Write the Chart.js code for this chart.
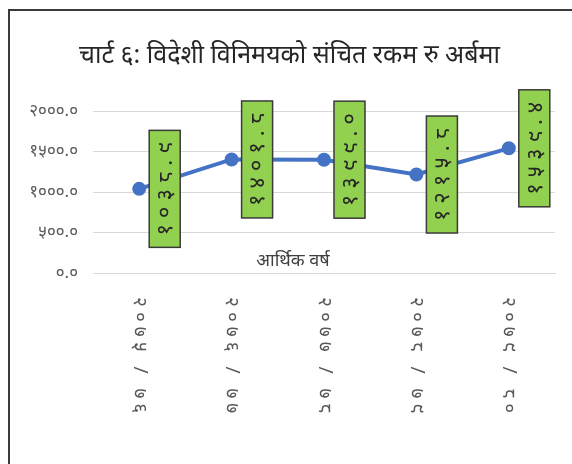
<!DOCTYPE html>
<html lang="ne">
<head>
  <meta charset="UTF-8">
  <title>विदेशी विनिमयको संचित रकम</title>
  <script src="https://cdn.jsdelivr.net/npm/chart.js"></script>
  <style>
    html, body { margin: 0; padding: 0; background: #fff; }
    #wrap {
      position: absolute; left: 8px; top: 9px; width: 564px; height: 455px;
      border-left: 2px solid #3a3a3a; border-top: 2px solid #3a3a3a;
    }
    canvas { position: absolute; left: 0; top: 0; }
  </style>
</head>
<body>
  <div id="wrap"></div>
  <canvas id="reserveChart" width="572" height="464"></canvas>

  <script>
    // आर्थिक वर्ष र संचित रकम (रु अर्बमा)
    const years = ['२०७५ / ७६', '२०७६ / ७७', '२०७७ / ७८', '२०७८ / ७९', '२०७९ / ८०'];
    const reserves = [1038.9, 1401.8, 1399.0, 1215.8, 1539.4];
    const yTicks = [0, 500, 1000, 1500, 2000];

    const FONT = "'Noto Sans', 'DejaVu Sans', sans-serif";
    const digits = '०१२३४५६७८९';
    const toNepali = n => n.toFixed(1).replace(/[0-9]/g, d => digits[+d]);

    // x-axis labels read top to bottom, value labels in green boxes read bottom to top
    const verticalLabels = {
      id: 'verticalLabels',
      afterDatasetsDraw(chart) {
        const { ctx, chartArea, scales: { x } } = chart;
        ctx.save();

        // axis title sits just above the baseline
        ctx.font = '18px ' + FONT;
        ctx.fillStyle = '#404040';
        ctx.textAlign = 'center';
        ctx.textBaseline = 'bottom';
        ctx.fillText('आर्थिक वर्ष', (chartArea.left + chartArea.right) / 2 - 31, chartArea.bottom - 3);

        years.forEach((lab, i) => {
          const px = x.getPixelForValue(i);
          ctx.save();
          ctx.translate(px, chartArea.bottom + 24);
          ctx.rotate(Math.PI / 2);
          ctx.font = '19px ' + FONT;
          ctx.letterSpacing = '5px';
          ctx.fillStyle = '#595959';
          ctx.textAlign = 'left';
          ctx.textBaseline = 'middle';
          ctx.fillText(lab, 0, 0);
          ctx.restore();
        });

        const meta = chart.getDatasetMeta(0);
        meta.data.forEach((pt, i) => {
          const txt = toNepali(reserves[i]);
          const bw = 31, bh = 117;
          const bx = pt.x + 10, by = pt.y - bh / 2;
          ctx.fillStyle = '#92d050';
          ctx.fillRect(bx, by, bw, bh);
          ctx.lineWidth = 1.5;
          ctx.strokeStyle = '#3a3a3a';
          ctx.strokeRect(bx, by, bw, bh);
          ctx.save();
          ctx.translate(bx + bw / 2, pt.y);
          ctx.rotate(-Math.PI / 2);
          ctx.font = '22px ' + FONT;
          ctx.letterSpacing = '6px';
          ctx.fillStyle = '#262626';
          ctx.textAlign = 'center';
          ctx.textBaseline = 'middle';
          ctx.fillText(txt, 3, 1);
          ctx.restore();
        });
        ctx.restore();
      }
    };

    const ctx = document.getElementById('reserveChart').getContext('2d');
    new Chart(ctx, {
      type: 'line',
      data: {
        labels: years,
        datasets: [{
          data: reserves,
          borderColor: '#4472c4',
          backgroundColor: '#4472c4',
          borderWidth: 4,
          pointRadius: 5,
          pointHoverRadius: 5,
          tension: 0
        }]
      },
      options: {
        responsive: false,
        animation: false,
        layout: { padding: { top: 10, left: 24, right: 17, bottom: 0 } },
        plugins: {
          legend: { display: false },
          tooltip: { enabled: false },
          title: {
            display: true,
            text: 'चार्ट ६: विदेशी विनिमयको संचित रकम रु अर्बमा',
            color: '#262626',
            font: { family: FONT, size: 25, weight: 'normal' },
            padding: { top: 31, bottom: 40 }
          }
        },
        scales: {
          x: {
            offset: true,
            grid: { display: false },
            border: { display: true, color: '#d9d9d9', width: 1 },
            ticks: { display: false },
            afterFit: s => { s.height = 191; }
          },
          y: {
            min: 0,
            max: 2000,
            afterBuildTicks: s => { s.ticks = yTicks.map(v => ({ value: v })); },
            grid: { color: '#d9d9d9', drawTicks: false },
            border: { display: false },
            ticks: {
              padding: 15,
              color: '#595959',
              font: { family: FONT, size: 17 },
              callback: v => toNepali(v)
            },
            afterFit: s => { s.width = 69; }
          }
        }
      },
      plugins: [verticalLabels]
    });
  </script>
</body>
</html>
